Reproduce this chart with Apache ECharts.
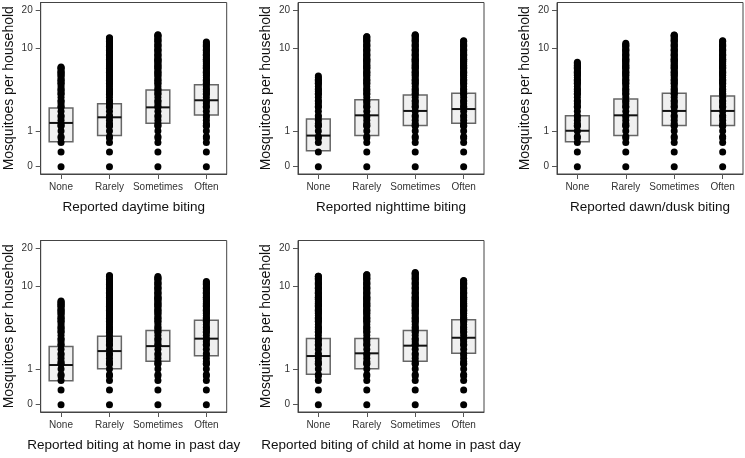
<!DOCTYPE html>
<html>
<head>
<meta charset="utf-8">
<script src="https://cdn.jsdelivr.net/npm/echarts@6/dist/echarts.min.js"></script>
<style>
  html, body { margin: 0; padding: 0; background: #fff; }
  #chart { width: 745px; height: 458px; }
</style>
</head>
<body>
<div id="chart"></div>
<script>
// categories and panel titles
const categories = ['None', 'Rarely', 'Sometimes', 'Often'];
const panelTitles = [
  'Reported daytime biting',
  'Reported nighttime biting',
  'Reported dawn/dusk biting',
  'Reported biting at home in past day',
  'Reported biting of child at home in past day'
];
const yTickLabels = [0, 1, 10, 20];

// box stats per category: [Q1, median, Q3]
const daytimeBox   = [[0.62, 1.36, 2.21], [0.83, 1.65, 2.50], [1.34, 2.25, 3.64], [1.78, 2.76, 4.18]];
const nighttimeBox = [[0.36, 0.83, 1.56], [0.83, 1.76, 2.80], [1.24, 2.02, 3.19], [1.34, 2.14, 3.34]];
const dawnDuskBox  = [[0.62, 1.01, 1.74], [0.83, 1.76, 2.86], [1.24, 2.02, 3.34], [1.24, 2.02, 3.11]];
const homeBox      = [[0.59, 1.17, 2.18], [1.01, 1.89, 2.91], [1.35, 2.20, 3.42], [1.63, 2.73, 4.43]];
const childBox     = [[0.81, 1.61, 2.75], [1.01, 1.76, 2.75], [1.35, 2.23, 3.42], [1.76, 2.80, 4.51]];

// largest observed value per category
const daytimeMax   = [6.45, 12.1, 12.8, 11.19];
const nighttimeMax = [5.19, 12.35, 12.8, 11.47];
const dawnDuskMax  = [7.2, 10.92, 12.74, 11.47];
const homeMax      = [7.07, 12.19, 11.97, 10.9];
const childMax     = [12.03, 12.35, 12.89, 11.11];

// distinct household means observed (averages over several collections)
const levels = [0, 0.33, 0.6, 0.75, 0.8, 1, 1.2, 1.25, 1.33, 1.5, 1.67, 1.75, 2, 2.25, 2.33, 2.5,
  2.67, 2.75, 3, 3.25, 3.33, 3.5, 3.67, 3.75, 4, 4.25, 4.33, 4.5, 4.67, 4.75, 5, 5.25, 5.33,
  5.5, 5.67, 5.75, 6, 6.25, 6.33, 6.5, 6.67, 6.75, 7, 7.25, 7.33, 7.5, 7.67, 7.75, 8, 8.33,
  8.5, 8.67, 9, 9.33, 9.5, 9.67, 10, 10.33, 10.5, 10.67, 11, 11.33, 11.5, 11.67, 12, 12.33,
  12.5, 12.67, 13];

const panelBoxes = [daytimeBox, nighttimeBox, dawnDuskBox, homeBox, childBox];
const panelMax = [daytimeMax, nighttimeMax, dawnDuskMax, homeMax, childMax];

// y scale: log(y+1) stretched between the printed ticks
const anchorPos = [0, 35.7, 118.7, 156.4];
function scaleY(v) {
  const g = Math.log10(v + 1);
  for (let i = 0; i < yTickLabels.length - 1; i++) {
    const g0 = Math.log10(yTickLabels[i] + 1), g1 = Math.log10(yTickLabels[i + 1] + 1);
    if (g <= g1 || i === yTickLabels.length - 2) {
      return anchorPos[i] + (g - g0) / (g1 - g0) * (anchorPos[i + 1] - anchorPos[i]);
    }
  }
}
const yTickPos = yTickLabels.map(scaleY);

const gridPos = [
  { left: 40.7, top: 2.5 }, { left: 298, top: 2.5 }, { left: 557, top: 2.5 },
  { left: 40.7, top: 240.5 }, { left: 298, top: 240.5 }
];
const boxHalf = 0.245;
const font = 'Liberation Sans, Arial, sans-serif';

const grids = [], xAxes = [], yAxes = [], series = [];
panelTitles.forEach(function (title, p) {
  grids.push({
    left: gridPos[p].left, top: gridPos[p].top, width: 186, height: 171.5,
    show: true, borderColor: '#444', borderWidth: 1, backgroundColor: 'transparent'
  });
  xAxes.push({
    gridIndex: p, type: 'value', min: 0.58, max: 4.42,
    name: title, nameLocation: 'middle', nameGap: 26,
    nameTextStyle: { fontSize: 13.5, color: '#111', fontFamily: font },
    axisLine: { onZero: false, lineStyle: { color: '#444' } },
    axisTick: { customValues: [1, 2, 3, 4], length: 5, lineStyle: { color: '#555' } },
    axisLabel: {
      customValues: [1, 2, 3, 4], fontSize: 10, color: '#333', fontFamily: font, margin: 8,
      formatter: function (v) { return categories[Math.round(v) - 1]; }
    },
    splitLine: { show: false }
  });
  yAxes.push({
    gridIndex: p, type: 'value', min: -7.3, max: 164.2,
    name: 'Mosquitoes per household', nameLocation: 'middle', nameGap: 25,
    nameTextStyle: { fontSize: 14, color: '#111', fontFamily: font },
    axisLine: { show: true, onZero: false, lineStyle: { color: '#444' } },
    axisTick: { show: true, customValues: yTickPos, length: 5, lineStyle: { color: '#555' } },
    axisLabel: {
      customValues: yTickPos, fontSize: 10, color: '#333', fontFamily: font, margin: 8,
      formatter: function (v) {
        const i = yTickPos.findIndex(function (t) { return Math.abs(t - v) < 0.01; });
        return i >= 0 ? String(yTickLabels[i]) : '';
      }
    },
    splitLine: { show: false }
  });

  const boxData = panelBoxes[p].map(function (b, i) {
    return [i + 1, scaleY(b[0]), scaleY(b[1]), scaleY(b[2])];
  });
  series.push({
    type: 'custom', xAxisIndex: p, yAxisIndex: p, z: 2,
    data: boxData,
    renderItem: function (params, api) {
      const x = api.value(0);
      const lo = api.coord([x - boxHalf, api.value(1)]);
      const hi = api.coord([x + boxHalf, api.value(3)]);
      const m1 = api.coord([x - boxHalf, api.value(2)]);
      const m2 = api.coord([x + boxHalf, api.value(2)]);
      return {
        type: 'group',
        children: [
          { type: 'rect', shape: { x: lo[0], y: hi[1], width: hi[0] - lo[0], height: lo[1] - hi[1] },
            style: { fill: '#f0f0f0', stroke: '#666', lineWidth: 1.5 } },
          { type: 'line', shape: { x1: m1[0], y1: m1[1], x2: m2[0], y2: m2[1] },
            style: { stroke: '#111', lineWidth: 2 } }
        ]
      };
    }
  });

  const dots = [];
  panelMax[p].forEach(function (mx, i) {
    levels.filter(function (v) { return v < mx; }).concat([mx]).forEach(function (v) {
      dots.push([i + 1, scaleY(v)]);
    });
  });
  series.push({
    type: 'scatter', xAxisIndex: p, yAxisIndex: p, z: 3,
    symbol: 'circle', symbolSize: 7,
    itemStyle: { color: '#000', opacity: 1 },
    data: dots
  });
});

const myChart = echarts.init(document.getElementById('chart'), null, { renderer: 'canvas' });
myChart.setOption({
  animation: false,
  backgroundColor: '#fff',
  grid: grids,
  xAxis: xAxes,
  yAxis: yAxes,
  series: series
});
</script>
</body>
</html>
